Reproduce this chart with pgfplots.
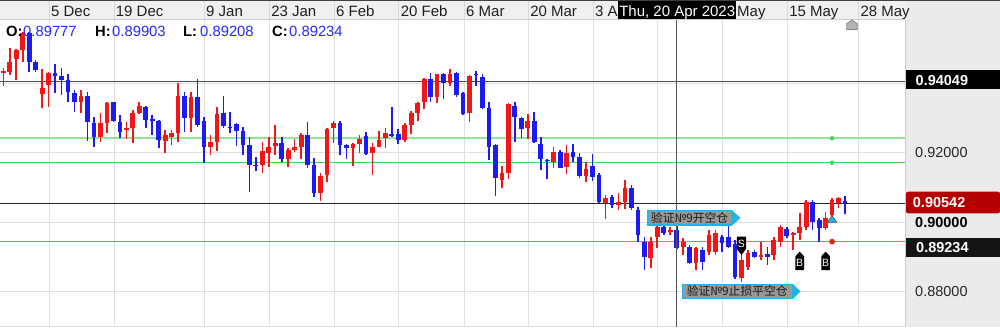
\documentclass[border=0pt]{standalone}
\usepackage{pgfplots}
\usepackage{pgfplotstable}
\pgfplotsset{compat=1.18}
\usepackage{fontspec}
\setmainfont{Liberation Sans}
\newfontfamily\cjk{Noto Sans CJK SC}
\definecolor{cred}{RGB}{242,22,22}
\definecolor{cblue}{RGB}{28,28,242}
\definecolor{gridc}{RGB}{224,224,224}
\definecolor{hdr}{RGB}{240,240,240}
\definecolor{hdrline}{RGB}{205,205,205}
\definecolor{panel}{RGB}{235,235,235}
\definecolor{lgreen}{RGB}{150,226,150}
\definecolor{mgreen}{RGB}{80,210,80}
\definecolor{stopred}{RGB}{250,110,110}
\definecolor{ccyan}{RGB}{30,180,235}
\definecolor{boxgray}{RGB}{152,152,152}
\definecolor{ohlcblue}{RGB}{40,40,255}
\definecolor{darkred}{RGB}{180,0,0}

\pgfplotstableread{
k o h l c
1 0.94319 0.94464 0.93942 0.94377
2 0.94348 0.95044 0.94261 0.94638
3 0.94725 0.95015 0.94116 0.94986
4 0.94986 0.95507 0.94638 0.95478
7 0.93710 0.94426 0.93295 0.93884
8 0.93971 0.94357 0.93342 0.94310
13 0.93487 0.93826 0.93151 0.93652
16 0.92473 0.93168 0.92328 0.92861
17 0.92879 0.93487 0.92571 0.93440
20 0.92667 0.92908 0.92406 0.92716
21 0.92716 0.93247 0.92281 0.93168
22 0.93151 0.93469 0.93140 0.93371
26 0.92357 0.92667 0.92010 0.92522
27 0.92455 0.92667 0.92232 0.92571
28 0.92589 0.94020 0.92328 0.93652
30 0.93024 0.93777 0.92618 0.93632
33 0.92165 0.92522 0.91942 0.92310
34 0.92328 0.93342 0.92067 0.93131
41 0.91652 0.92328 0.91430 0.92058
42 0.92010 0.92455 0.91603 0.92183
43 0.92203 0.92812 0.91942 0.92299
45 0.91817 0.92136 0.91585 0.92087
46 0.92087 0.92397 0.92038 0.92165
47 0.92183 0.92571 0.91826 0.92522
50 0.90832 0.91411 0.90618 0.91334
51 0.91363 0.92716 0.91169 0.92687
52 0.92716 0.92937 0.92281 0.92879
55 0.92136 0.92299 0.91623 0.92261
56 0.92261 0.92522 0.91991 0.92406
58 0.91991 0.92299 0.91363 0.92183
59 0.92183 0.92647 0.92165 0.92377
60 0.92426 0.92716 0.92154 0.92571
63 0.92377 0.92861 0.92328 0.92812
64 0.92812 0.93226 0.92542 0.93168
65 0.93168 0.93487 0.92937 0.93458
66 0.93469 0.94165 0.93275 0.94136
68 0.93632 0.94290 0.93441 0.94281
70 0.94020 0.94426 0.93942 0.94281
73 0.93151 0.94261 0.92890 0.94241
78 0.91218 0.91632 0.90977 0.91430
79 0.91430 0.93441 0.91238 0.93412
82 0.92716 0.93131 0.92397 0.92937
86 0.91748 0.92183 0.91556 0.92020
88 0.91603 0.92223 0.91383 0.91991
91 0.91334 0.91748 0.91169 0.91528
94 0.90542 0.90783 0.90078 0.90687
96 0.90493 0.90832 0.90348 0.90589
97 0.90589 0.91218 0.90368 0.90977
101 0.88948 0.89574 0.88658 0.89429
102 0.89574 0.89913 0.89238 0.89864
104 0.89719 0.89864 0.89623 0.89768
106 0.89285 0.89528 0.89044 0.89430
108 0.88803 0.89285 0.88609 0.89238
110 0.89140 0.89768 0.89044 0.89623
111 0.89140 0.89768 0.89044 0.89672
115 0.88368 0.89285 0.88270 0.88899
116 0.88705 0.89189 0.88609 0.89093
118 0.88977 0.89430 0.88899 0.89044
120 0.89044 0.89575 0.88899 0.89479
121 0.89430 0.89913 0.89285 0.89864
123 0.89623 0.89719 0.89189 0.89672
124 0.89690 0.90252 0.89479 0.89864
125 0.89864 0.90638 0.89768 0.90589
128 0.89817 0.90299 0.89768 0.90107
129 0.90203 0.90687 0.90107 0.90638
130 0.90542 0.90734 0.90397 0.90687
}\redtab

\pgfplotstableread{
k o h l c
5 0.95478 0.95507 0.94348 0.94638
6 0.94638 0.94696 0.94348 0.94406
9 0.94310 0.94580 0.93730 0.94241
10 0.94232 0.94455 0.93681 0.94116
11 0.94116 0.94290 0.93487 0.93759
12 0.93730 0.93826 0.93198 0.93487
14 0.93661 0.93777 0.92357 0.92890
15 0.92879 0.93052 0.92183 0.92473
18 0.93469 0.93487 0.92908 0.92937
19 0.92908 0.93102 0.92444 0.92618
23 0.93342 0.93362 0.92716 0.92957
24 0.92977 0.93102 0.92522 0.92937
25 0.92937 0.92957 0.92136 0.92377
29 0.93652 0.93777 0.92618 0.93006
31 0.93632 0.94136 0.92745 0.92812
32 0.92928 0.93052 0.91702 0.92183
35 0.93151 0.93652 0.92716 0.92783
36 0.92763 0.93180 0.92589 0.92716
37 0.92841 0.92879 0.92212 0.92647
38 0.92647 0.92763 0.91942 0.92232
39 0.92223 0.92473 0.90878 0.91652
40 0.91652 0.91893 0.91488 0.91623
44 0.92299 0.92455 0.91748 0.91817
48 0.92522 0.92908 0.91574 0.91652
49 0.91652 0.91846 0.90734 0.90832
53 0.92861 0.92937 0.91942 0.92232
54 0.92232 0.92261 0.91826 0.92136
57 0.92502 0.92618 0.91942 0.91971
61 0.92551 0.93325 0.92473 0.92502
62 0.92542 0.92696 0.92252 0.92377
67 0.94136 0.94328 0.93487 0.93632
69 0.94281 0.94310 0.93557 0.94020
71 0.94310 0.94339 0.93632 0.93681
72 0.93748 0.93759 0.93102 0.93131
74 0.94281 0.94386 0.93942 0.94261
75 0.94212 0.94290 0.93275 0.93296
76 0.93296 0.93487 0.91797 0.92183
77 0.92232 0.92252 0.90754 0.91284
80 0.93362 0.93487 0.92328 0.93035
81 0.93006 0.93052 0.92426 0.92687
83 0.92928 0.93198 0.92281 0.92328
84 0.92261 0.92473 0.91508 0.91817
85 0.91797 0.91817 0.91238 0.91777
87 0.92038 0.92087 0.91556 0.91574
89 0.92038 0.92261 0.91748 0.91893
90 0.91893 0.91991 0.91267 0.91334
92 0.91623 0.91971 0.91189 0.91315
93 0.91363 0.91421 0.90551 0.90589
95 0.90734 0.90783 0.90397 0.90493
98 0.90977 0.91073 0.90348 0.90406
99 0.90348 0.90444 0.89429 0.89623
100 0.89429 0.89574 0.88609 0.88994
103 0.89864 0.89913 0.89623 0.89672
105 0.89777 0.89903 0.89208 0.89234
107 0.89285 0.89334 0.88790 0.88803
109 0.89189 0.89285 0.88609 0.88850
112 0.89574 0.89623 0.89140 0.89383
113 0.89574 0.89962 0.89238 0.89285
114 0.89363 0.89479 0.88348 0.88406
117 0.89140 0.89189 0.88948 0.88977
119 0.89073 0.89285 0.88754 0.88977
122 0.89788 0.89864 0.89528 0.89594
126 0.90589 0.90638 0.89768 0.90009
127 0.90058 0.90107 0.89430 0.89817
131 0.90600 0.90754 0.90223 0.90542
}\bluetab

\newcommand{\datefont}{\fontsize{15}{18}\selectfont}
\newcommand{\ohlcfont}{\fontsize{14.8}{18}\selectfont}
\newcommand{\pricefont}{\fontsize{14.5}{18}\selectfont}
\pgfplotsset{candle/.style={draw=none, mark=none, forget plot,
  error bars/.cd, y dir=plus, y explicit, error mark=none}}

\begin{document}
\begin{tikzpicture}
\path[use as bounding box] (0pt,0pt) rectangle (1000pt,327pt);
% backgrounds
\fill[white] (0pt,0pt) rectangle (905pt,307pt);
\fill[panel] (905pt,0pt) rectangle (1000pt,327pt);
\draw[hdrline, line width=1pt] (905.5pt,0pt) -- (905.5pt,307pt);
\fill[hdr] (0pt,307pt) rectangle (905pt,327pt);
\draw[hdrline, line width=1pt] (0pt,307pt) -- (905pt,307pt);
\draw[black!75, line width=1pt] (0pt,326.5pt) -- (1000pt,326.5pt);
\draw[gridc, line width=1pt] (0pt,0.7pt) -- (905pt,0.7pt);
\foreach \gx in {49.27,114.0,204.3,269.4,334.2,398.9,464.3,528.4,593.2,657.9,722.7,787.4,858.6}
  {\draw[black!15, line width=1pt] (\gx pt,307pt) -- (\gx pt,326pt);}

\begin{axis}[
  at={(0pt,0pt)}, anchor=south west,
  scale only axis, width=905pt, height=307pt,
  xmin=0.4903, xmax=140.26,
  ymin=0.869565, ymax=0.958551,
  axis line style={draw=none},
  major tick length=0pt,
  xtick={8.1,18.1,32.05,42.1,52.1,62.1,72.2,82.1,92.1,102.1,112.1,122.1,133.1},
  ytick={0.88,0.90,0.92,0.94},
  xticklabels={}, yticklabels={},
  grid=major, grid style={draw=gridc, line width=1pt},
  clip=false,
]
% horizontal level lines
\addplot[forget plot, line width=1.4pt, draw=black!70] coordinates {(0.4903,0.94070) (140.26,0.94070)};
\addplot[forget plot, line width=2pt, draw=lgreen] coordinates {(0.4903,0.92426) (140.26,0.92426)};
\addplot[forget plot, line width=1.2pt, draw=mgreen] coordinates {(0.4903,0.91719) (140.26,0.91719)};
\addplot[forget plot, line width=1pt, draw=black!85] coordinates {(0.4903,0.90542) (140.26,0.90542)};
\addplot[forget plot, line width=1.5pt, draw=stopred] coordinates {(0.4903,0.89430) (140.26,0.89430)};

% wicks
\addplot[candle, error bar style={line width=1.6pt, draw=cred, solid}]
  table[x=k, y=l, y error plus expr=\thisrow{h}-\thisrow{l}] {\redtab};
\addplot[candle, error bar style={line width=1.6pt, draw=cblue, solid}]
  table[x=k, y=l, y error plus expr=\thisrow{h}-\thisrow{l}] {\bluetab};
% bodies
\addplot[candle, error bar style={line width=4.7pt, draw=cred, solid}]
  table[x=k, y=o, y error plus expr={max(\thisrow{c}-\thisrow{o},0.0003)}] {\redtab};
\addplot[candle, error bar style={line width=4.7pt, draw=cblue, solid}]
  table[x=k, y=c, y error plus expr={max(\thisrow{o}-\thisrow{c},0.0003)}] {\bluetab};

% crosshair
\addplot[forget plot, line width=1pt, draw=black!65] coordinates {(105,0.869565) (105,0.958551)};

% level dots and signal markers
\addplot[forget plot, only marks, mark=*, mark size=2pt, color=mgreen] coordinates {(129,0.92426) (129,0.91719)};
\addplot[forget plot, only marks, mark=*, mark size=2.6pt, color=cred] coordinates {(129,0.89430)};
\addplot[forget plot, only marks, mark=triangle*, mark size=5.5pt,
  mark options={fill=ccyan, draw=black!70, line width=0.6pt, yscale=0.8}] coordinates {(129,0.90055)};

% S marker (down)
\fill[black] (axis cs:115,0.89043) -- ++(-4.6pt,6pt) -- ++(0pt,12.3pt) -- ++(9.2pt,0pt) -- ++(0pt,-12.3pt) -- cycle;
\node[text=white, inner sep=0pt, font=\fontsize{10.5}{11}\selectfont] at (axis cs:115,0.89362) {S};
% B markers (up)
\fill[black] (axis cs:124,0.89139) -- ++(-4.3pt,-4.5pt) -- ++(0pt,-13.8pt) -- ++(8.6pt,0pt) -- ++(0pt,13.8pt) -- cycle;
\node[text=white, inner sep=0pt, font=\fontsize{10.5}{11}\selectfont] at (axis cs:124,0.88812) {B};
\fill[black] (axis cs:128,0.89139) -- ++(-4.3pt,-4.5pt) -- ++(0pt,-13.8pt) -- ++(8.6pt,0pt) -- ++(0pt,13.8pt) -- cycle;
\node[text=white, inner sep=0pt, font=\fontsize{10.5}{11}\selectfont] at (axis cs:128,0.88812) {B};

% annotation boxes
\node[anchor=west, fill=boxgray, draw=ccyan, line width=1.2pt, inner xsep=0pt, inner ysep=0pt,
  minimum width=83.4pt, minimum height=14.3pt, text=black!90,
  font=\cjk\fontsize{11.8}{12}\selectfont] (b1) at (axis cs:100.46,0.90119) {验证№9开空仓};
\fill[ccyan] (b1.north east) -- ([xshift=8.6pt]b1.east) -- (b1.south east) -- cycle;
\node[anchor=west, fill=boxgray, draw=ccyan, line width=1.2pt, inner xsep=0pt, inner ysep=0pt,
  minimum width=110pt, minimum height=14pt, text=black!90,
  font=\cjk\fontsize{11.8}{12}\selectfont] (b2) at (axis cs:105.77,0.87991) {验证№9止损平空仓};
\fill[ccyan] (b2.north east) -- ([xshift=7.6pt]b2.east) -- (b2.south east) -- cycle;

% scroll marker at top
\filldraw[fill=black!30, draw=black!50, line width=0.6pt] (axis cs:132.07,0.958551) -- ++(-5.3pt,-3.5pt) -- ++(0pt,-6pt) -- ++(10.6pt,0pt) -- ++(0pt,6pt) -- cycle;
\end{axis}

% date labels (those partly hidden by the crosshair date box show their visible part)
\foreach \gx/\lab in {49.27/5 Dec,114.0/19 Dec,204.3/9 Jan,269.4/23 Jan,334.2/6 Feb,398.9/20 Feb,464.3/6 Mar,528.4/20 Mar,593.2/3 A,787.4/15 May,858.6/28 May}
  {\node[anchor=base west, inner sep=0pt, text=black!88, font=\datefont] at (\gx pt+1.7pt,310.3pt) {\lab};}
\node[anchor=base west, inner sep=0pt, text=black!88, font=\datefont] at (737pt,310.3pt) {May};
% crosshair date box
\fill[black] (618.3pt,308pt) rectangle (736pt,326.3pt);
\node[anchor=base, inner sep=0pt, text=white, font=\datefont] at (677.2pt,310.3pt) {Thu, 20 Apr 2023};

% OHLC readout
\node[anchor=base west, inner sep=0pt, font=\ohlcfont\bfseries] at (6pt,290.7pt) {O:};
\node[anchor=base west, inner sep=0pt, text=ohlcblue, font=\ohlcfont] at (23pt,290.7pt) {0.89777};
\node[anchor=base west, inner sep=0pt, font=\ohlcfont\bfseries] at (95pt,290.7pt) {H:};
\node[anchor=base west, inner sep=0pt, text=ohlcblue, font=\ohlcfont] at (112pt,290.7pt) {0.89903};
\node[anchor=base west, inner sep=0pt, font=\ohlcfont\bfseries] at (183pt,290.7pt) {L:};
\node[anchor=base west, inner sep=0pt, text=ohlcblue, font=\ohlcfont] at (200pt,290.7pt) {0.89208};
\node[anchor=base west, inner sep=0pt, font=\ohlcfont\bfseries] at (272pt,290.7pt) {C:};
\node[anchor=base west, inner sep=0pt, text=ohlcblue, font=\ohlcfont] at (289pt,290.7pt) {0.89234};

% price scale labels
\fill[black] (906pt,237.5pt) rectangle (1000pt,256.5pt);
\node[anchor=base west, inner sep=0pt, text=white, font=\pricefont\bfseries] at (915.5pt,241.8pt) {0.94049};
\node[anchor=base west, inner sep=0pt, text=black!85, font=\pricefont] at (915pt,169.1pt) {0.92000};
\fill[darkred, rounded corners=2pt] (906pt,113.7pt) rectangle (1000pt,135.3pt);
\node[anchor=base west, inner sep=0pt, text=white, font=\pricefont\bfseries] at (912.7pt,119.3pt) {0.90542};
\node[anchor=base west, inner sep=0pt, text=black, font=\pricefont\bfseries] at (915pt,99.1pt) {0.90000};
\fill[black!92] (906pt,70.3pt) rectangle (1000pt,88.7pt);
\node[anchor=base west, inner sep=0pt, text=white, font=\pricefont\bfseries] at (916pt,74.3pt) {0.89234};
\node[anchor=base west, inner sep=0pt, text=black!85, font=\pricefont] at (915pt,30.1pt) {0.88000};
\end{tikzpicture}
\end{document}
